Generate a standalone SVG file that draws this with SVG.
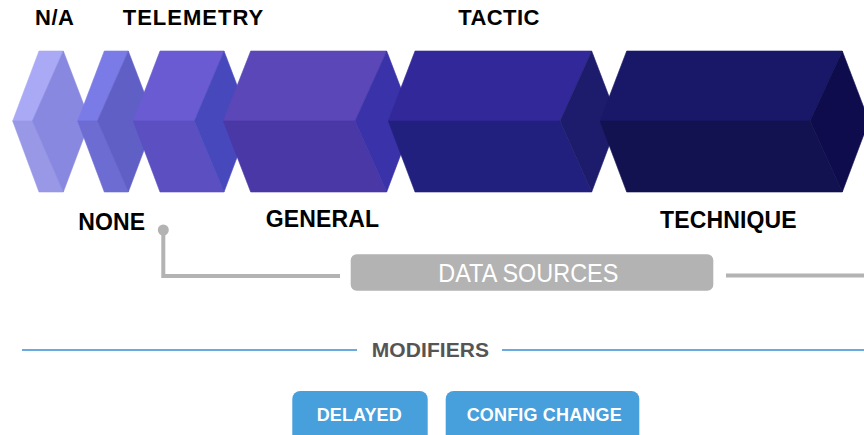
<svg xmlns="http://www.w3.org/2000/svg" width="864" height="435" viewBox="0 0 864 435">
  <style>
    .face { fill: currentColor; stroke: currentColor; stroke-width: 0.6; stroke-linejoin: round; }
    .lbl { font-family: "Liberation Sans", Arial, sans-serif; font-weight: bold; fill: #000; text-anchor: middle; }
    .top { font-size: 22px; }
    .bot { font-size: 23px; }
    .link { fill: none; stroke: #b3b3b3; stroke-width: 4; }
    .rule { stroke: #6aaadf; stroke-width: 2; }
    .btn { fill: #479fdc; }
    .btn-text { font-family: "Liberation Sans", Arial, sans-serif; font-weight: bold; font-size: 18px; fill: #fff; text-anchor: middle; }
  </style>

  <rect width="864" height="435" fill="#fff"/>

  <!-- Prism blocks: each has an upper face, a lower face and a right face.
       Top edge y=51, middle y=121, bottom y=192. Later blocks overlap earlier ones. -->
  <g id="node-na">
    <polygon class="face" color="#a9a9f6" points="12.7,121 39,51 63.3,51 32.3,121"/>
    <polygon class="face" color="#9898e7" points="12.7,121 32.3,121 63.3,192 39,192"/>
    <polygon class="face" color="#8888e0" points="32.3,121 63.3,51 90,121 63.3,192"/>
    <text class="lbl top" x="54.5" y="25" textLength="39">N/A</text>
  </g>

  <g id="node-none">
    <polygon class="face" color="#7b7be8" points="77.7,121 104.3,51 128.3,51 97.3,121"/>
    <polygon class="face" color="#6c6cd3" points="77.7,121 97.3,121 128.3,192 104.3,192"/>
    <polygon class="face" color="#5f5fc6" points="97.3,121 128.3,51 155,121 128.3,192"/>
    <text class="lbl bot" x="111.7" y="230" textLength="66.7">NONE</text>
  </g>

  <g id="node-telemetry">
    <polygon class="face" color="#6a5bd2" points="133.3,121 160,51 224,51 194.3,121"/>
    <polygon class="face" color="#5b4fc2" points="133.3,121 194.3,121 224,192 160,192"/>
    <polygon class="face" color="#4848bd" points="194.3,121 224,51 250.7,121 224,192"/>
    <text class="lbl top" x="193" y="25" textLength="140.6">TELEMETRY</text>
  </g>

  <g id="node-general">
    <polygon class="face" color="#5b47b8" points="223.3,121 250.7,51 386.7,51 355,121"/>
    <polygon class="face" color="#4938a6" points="223.3,121 355,121 386.7,192 250.7,192"/>
    <polygon class="face" color="#3a32a8" points="355,121 386.7,51 413.4,121 386.7,192"/>
    <text class="lbl bot" x="322.3" y="226.7" textLength="113.3">GENERAL</text>
  </g>

  <g id="node-tactic">
    <polygon class="face" color="#32289a" points="388.3,121 415,51 591.7,51 560,121"/>
    <polygon class="face" color="#22207f" points="388.3,121 560,121 591.7,192 415,192"/>
    <polygon class="face" color="#1d1c6c" points="560,121 591.7,51 618.4,121 591.7,192"/>
    <text class="lbl top" x="498.8" y="25" textLength="81">TACTIC</text>
  </g>

  <g id="node-technique">
    <polygon class="face" color="#191868" points="600,121 626.7,51 842.3,51 810,121"/>
    <polygon class="face" color="#131251" points="600,121 810,121 842.3,192 626.7,192"/>
    <polygon class="face" color="#0e0c4c" points="810,121 842.3,51 869,121 842.3,192"/>
    <text class="lbl bot" x="728.3" y="228.3" textLength="136.7">TECHNIQUE</text>
  </g>

  <!-- Data sources bracket -->
  <g id="connectors">
    <circle cx="163.3" cy="230" r="5.5" fill="#b3b3b3"/>
    <polyline class="link" points="163.3,230 163.3,276 340,276"/>
    <line class="link" x1="726" y1="275.5" x2="864" y2="275.5"/>
  </g>

  <g id="node-data-sources">
    <rect x="350.7" y="254.3" width="362.6" height="36.4" rx="6" fill="#b3b3b3"/>
    <text x="528.3" y="281.7" font-family="'Liberation Sans', Arial, sans-serif" font-size="25" fill="#fff" text-anchor="middle" textLength="180" lengthAdjust="spacingAndGlyphs">DATA SOURCES</text>
  </g>

  <!-- Modifiers divider -->
  <g id="modifiers-header">
    <line class="rule" x1="22" y1="350" x2="357" y2="350"/>
    <line class="rule" x1="502" y1="350" x2="864" y2="350"/>
    <text x="430.4" y="356.7" font-family="'Liberation Sans', Arial, sans-serif" font-weight="bold" font-size="21" fill="#555" text-anchor="middle" textLength="117.3">MODIFIERS</text>
  </g>

  <g id="node-delayed">
    <rect class="btn" x="292.3" y="391" width="135.4" height="60" rx="8"/>
    <text class="btn-text" x="359.2" y="421" textLength="85">DELAYED</text>
  </g>

  <g id="node-config-change">
    <rect class="btn" x="445.7" y="391" width="193.6" height="60" rx="8"/>
    <text class="btn-text" x="544.2" y="421" textLength="155">CONFIG CHANGE</text>
  </g>
</svg>
